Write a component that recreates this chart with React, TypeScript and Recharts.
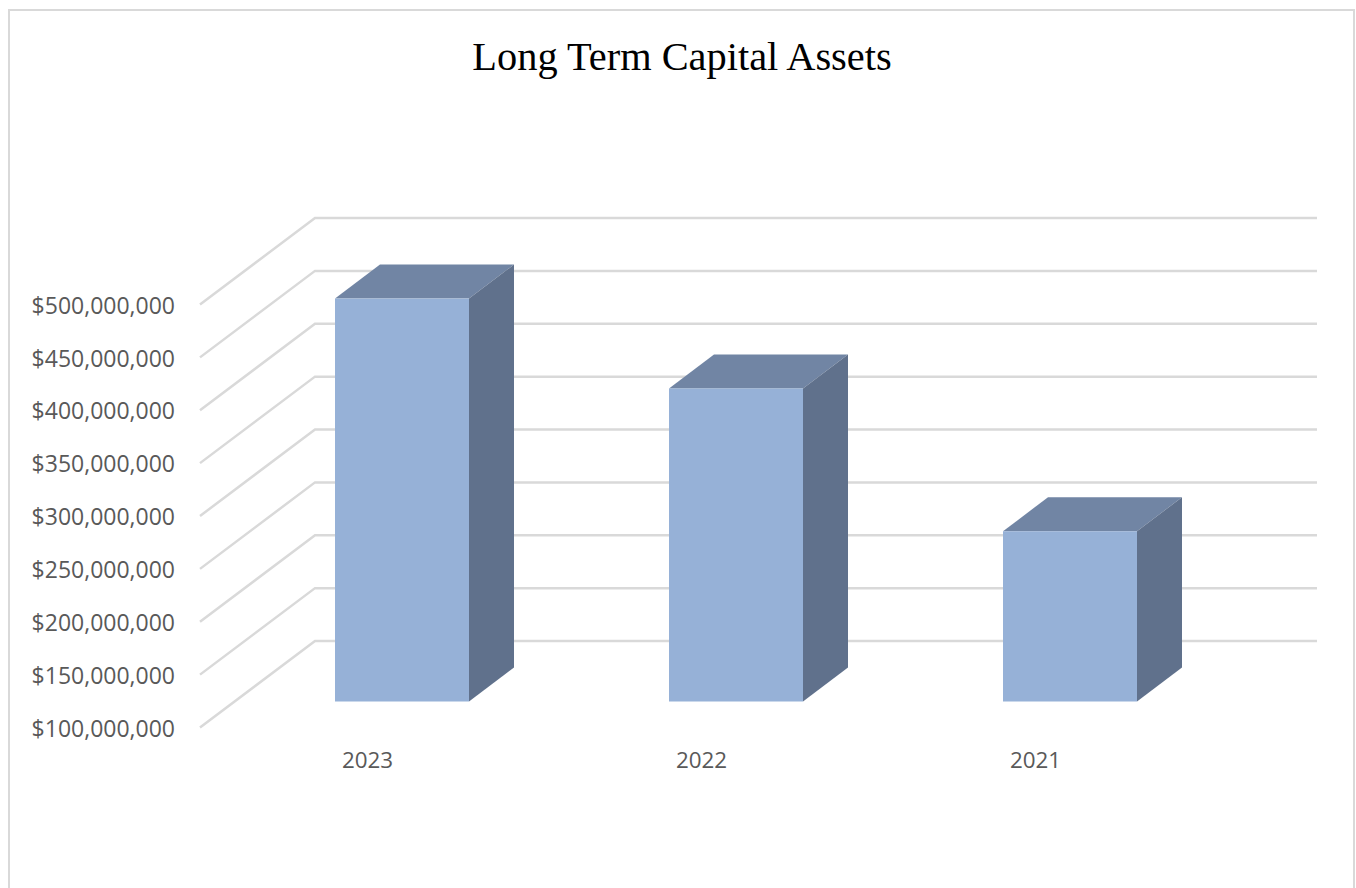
import React from "react";
import { BarChart, Bar, XAxis, YAxis, CartesianGrid } from "recharts";

const years = ["2023", "2022", "2021"];
const assets = [481000000, 396000000, 261000000];
const axisTicks = [
  100000000, 150000000, 200000000, 250000000, 300000000, 350000000, 400000000,
  450000000, 500000000,
];
const chartData = years.map((year, i) => ({ year, assets: assets[i] }));

const TITLE = "Long Term Capital Assets";
const TICK_FONT = "'Open Sans', sans-serif";
const TICK_COLOR = "#595959";
const GRID_COLOR = "#d9d9d9";

// Floor depth of the 3D plot and the depth of each column.
const FLOOR_DX = 115;
const FLOOR_DY = 86.5;
const FLOOR_OVERHANG = 3;
const FLOOR_LENGTH = 1002;
const COLUMN_DX = 45;
const COLUMN_DY = 34;
const COLUMN_SHIFT_X = 32;
const COLUMN_SHIFT_Y = 26;

const formatDollars = (v: number) => "$" + v.toLocaleString("en-US");

// One gridline: a diagonal along the side wall, then a run along the back wall.
function WallLine(props: any) {
  const { x1, y1 } = props;
  const startX = x1 - FLOOR_OVERHANG;
  const backX = startX + FLOOR_DX;
  const backY = y1 - FLOOR_DY;
  return (
    <polyline
      points={`${startX},${y1} ${backX},${backY} ${backX + FLOOR_LENGTH},${backY}`}
      fill="none"
      stroke={GRID_COLOR}
      strokeWidth={2.5}
    />
  );
}

// Extruded column: front, top and side faces built from the bar's rectangle.
function Column(props: any) {
  const { x, y, width, height } = props;
  const left = x + COLUMN_SHIFT_X;
  const right = left + width;
  const top = y - COLUMN_SHIFT_Y;
  const bottom = top + height;
  return (
    <g>
      <polygon
        points={`${left},${top} ${left + COLUMN_DX},${top - COLUMN_DY} ${right + COLUMN_DX},${top - COLUMN_DY} ${right},${top}`}
        fill="#7185a4"
      />
      <polygon
        points={`${right},${top} ${right + COLUMN_DX},${top - COLUMN_DY} ${right + COLUMN_DX},${bottom - COLUMN_DY} ${right},${bottom}`}
        fill="#60718c"
      />
      <rect x={left} y={top} width={width} height={height} fill="#96b1d7" />
    </g>
  );
}

export default function App() {
  return (
    <div style={{ position: "absolute", left: 0, top: 0, width: 1356, height: 888, overflow: "hidden", background: "#fff" }}>
      <div
        style={{
          position: "absolute",
          left: 8,
          top: 9,
          width: 1347,
          height: 900,
          boxSizing: "border-box",
          border: `2px solid ${GRID_COLOR}`,
        }}
      />
      <div style={{ position: "absolute", left: 0, top: 0 }}>
        <BarChart
          width={1356}
          height={888}
          data={chartData}
          margin={{ top: 304.5, right: 151, bottom: 0, left: 0 }}
          barCategoryGap={0}
        >
          <text
            x={682}
            y={70}
            textAnchor="middle"
            fontFamily="'Liberation Serif', serif"
            fontSize={40.4}
            fill="#000000"
          >
            {TITLE}
          </text>
          <CartesianGrid
            vertical={false}
            horizontal={(p: any) => <WallLine key={p.key ?? p.y1} {...p} />}
            horizontalValues={axisTicks}
          />
          <XAxis
            dataKey="year"
            height={160.5}
            axisLine={false}
            tickLine={false}
            tickMargin={19}
            dx={-2.5}
            tick={{ fontFamily: TICK_FONT, fontSize: 22.4, fill: TICK_COLOR }}
          />
          <YAxis
            width={203}
            domain={[100000000, 500000000]}
            ticks={axisTicks}
            interval={0}
            axisLine={false}
            tickLine={false}
            tickMargin={22}
            dy={1}
            tickFormatter={formatDollars}
            tick={{ fontFamily: TICK_FONT, fontSize: 23, fill: TICK_COLOR }}
          />
          <Bar dataKey="assets" barSize={134} isAnimationActive={false} shape={<Column />} />
        </BarChart>
      </div>
    </div>
  );
}
